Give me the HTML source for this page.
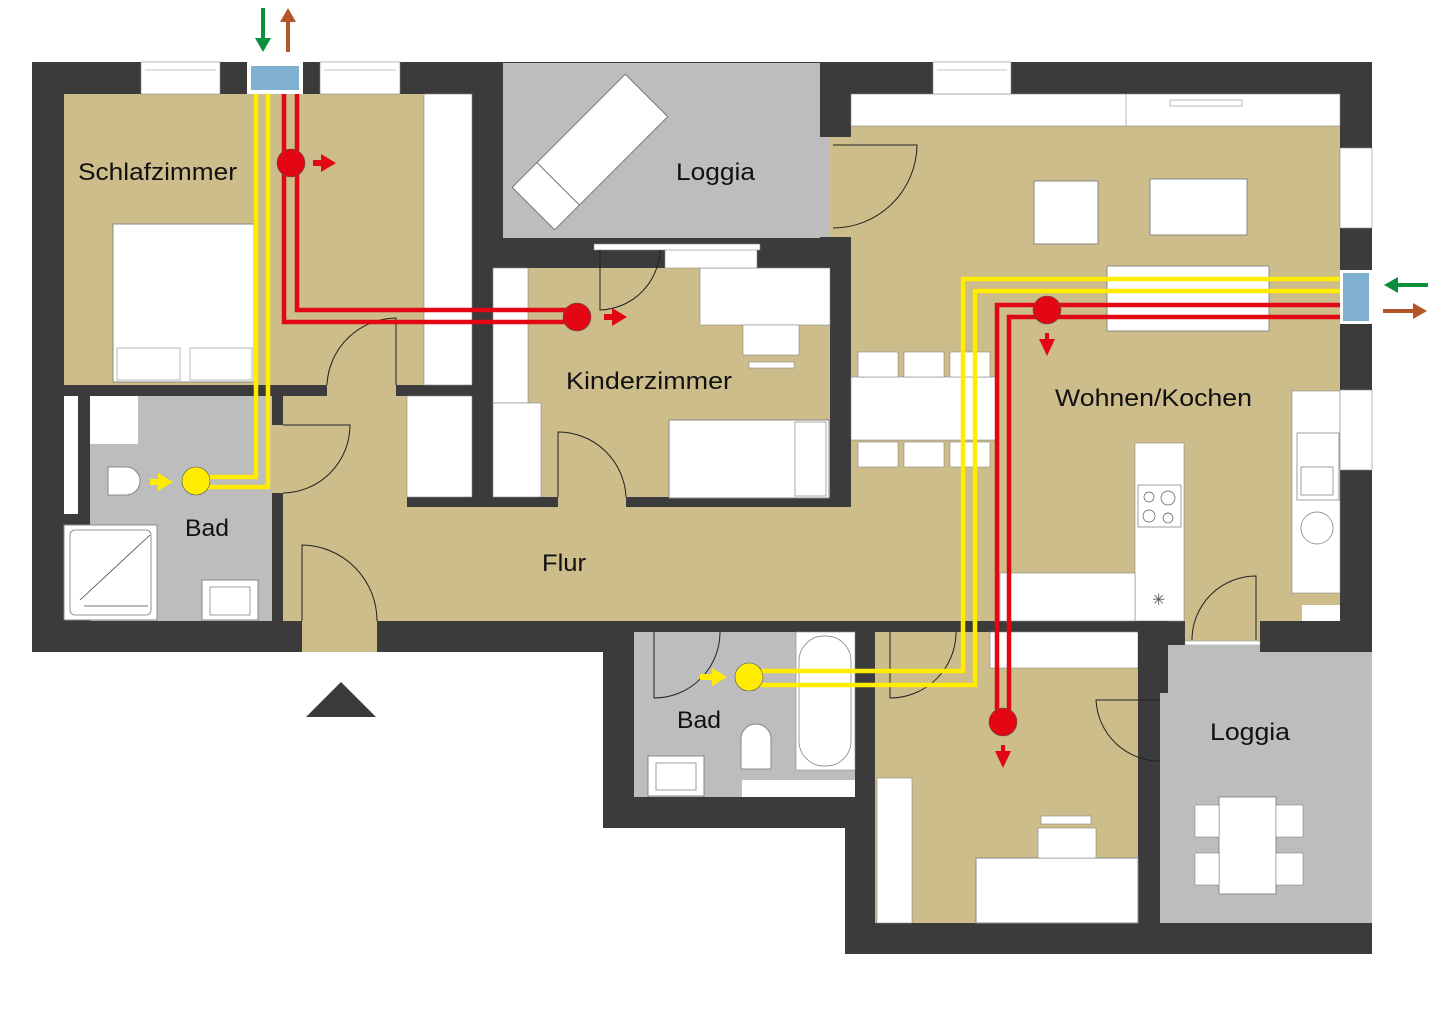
<!DOCTYPE html>
<html><head><meta charset="utf-8"><style>html,body{margin:0;padding:0;background:#fff}svg{display:block}text{font-family:"Liberation Sans",sans-serif;font-size:24px;fill:#111}</style></head><body>
<svg width="1440" height="1018" viewBox="0 0 1440 1018" xmlns="http://www.w3.org/2000/svg">
<rect width="1440" height="1018" fill="#fff"/>
<polygon points="32,62 1372,62 1372,954 845,954 845,828 603,828 603,652 32,652" fill="#3b3b3b"/>
<rect x="503" y="63" width="317" height="175" fill="#bdbdbd"/>
<rect x="820" y="137" width="10" height="100" fill="#bdbdbd"/>
<rect x="64" y="94" width="360" height="291" fill="#cdbd8a"/>
<rect x="424" y="94" width="48" height="291" fill="#fff" stroke="#888" stroke-width="0.6"/>
<rect x="327" y="385" width="69" height="12" fill="#cdbd8a"/>
<rect x="90" y="396" width="182" height="225" fill="#bdbdbd"/>
<rect x="64" y="396" width="14" height="118" fill="#fff"/>
<rect x="90" y="396" width="48" height="48" fill="#fff"/>
<rect x="64" y="525" width="93" height="95" fill="#fff" stroke="#888"/>
<rect x="70" y="530" width="81" height="85" rx="5" fill="#fff" stroke="#777" stroke-width="0.8"/>
<line x1="80" y1="600" x2="150" y2="535" stroke="#444" stroke-width="0.8"/>
<line x1="84" y1="606" x2="148" y2="606" stroke="#444" stroke-width="0.8"/>
<rect x="202" y="580" width="56" height="40" fill="#fff" stroke="#888"/>
<rect x="210" y="587" width="40" height="28" fill="#fff" stroke="#777" stroke-width="0.7"/>
<path d="M108,467 h18 a14,14 0 0 1 0,28 h-18 z" fill="#fff" stroke="#888"/>
<rect x="283" y="396" width="124" height="112" fill="#cdbd8a"/>
<rect x="283" y="507" width="720" height="114" fill="#cdbd8a"/>
<rect x="302" y="621" width="75" height="31" fill="#cdbd8a"/>
<rect x="407" y="396" width="65" height="101" fill="#fff" stroke="#888" stroke-width="0.6"/>
<rect x="272" y="425" width="11" height="68" fill="#cdbd8a"/>
<rect x="493" y="268" width="337" height="229" fill="#cdbd8a"/>
<rect x="493" y="268" width="35" height="135" fill="#fff" stroke="#888" stroke-width="0.6"/>
<rect x="493" y="403" width="48" height="94" fill="#fff" stroke="#888" stroke-width="0.6"/>
<rect x="700" y="268" width="130" height="57" fill="#fff" stroke="#888" stroke-width="0.6"/>
<rect x="743" y="325" width="56" height="30" fill="#fff" stroke="#888" stroke-width="0.6"/>
<rect x="749" y="362" width="45" height="6" fill="#fff" stroke="#888" stroke-width="0.6"/>
<rect x="669" y="420" width="160" height="78" fill="#fff" stroke="#888"/>
<rect x="795" y="422" width="31" height="74" fill="none" stroke="#888" stroke-width="0.7"/>
<rect x="665" y="248" width="92" height="20" fill="#fff" stroke="#888" stroke-width="0.6"/>
<rect x="594" y="244" width="166" height="6" fill="#fff" stroke="#888" stroke-width="0.6"/>
<rect x="558" y="497" width="68" height="10" fill="#cdbd8a"/>
<g transform="rotate(-45 590 152)"><rect x="510" y="122" width="160" height="60" fill="#fff" stroke="#777"/><line x1="545" y1="122" x2="545" y2="182" stroke="#777"/></g>
<rect x="851" y="126" width="489" height="495" fill="#cdbd8a"/>
<rect x="830" y="137" width="21" height="100" fill="#cdbd8a"/>
<rect x="851" y="94" width="489" height="32" fill="#fff" stroke="#888" stroke-width="0.6"/>
<line x1="1126" y1="94" x2="1126" y2="126" stroke="#888" stroke-width="0.6"/>
<rect x="1170" y="100" width="72" height="6" fill="#fff" stroke="#888" stroke-width="0.6"/>
<rect x="1034" y="181" width="64" height="63" fill="#fff" stroke="#888"/>
<rect x="1150" y="179" width="97" height="56" fill="#fff" stroke="#888"/>
<rect x="1107" y="266" width="162" height="65" fill="#fff" stroke="#888"/>
<rect x="851" y="377" width="145" height="63" fill="#fff" stroke="#888" stroke-width="0.6"/>
<rect x="858" y="352" width="40" height="25" fill="#fff" stroke="#888" stroke-width="0.6"/>
<rect x="904" y="352" width="40" height="25" fill="#fff" stroke="#888" stroke-width="0.6"/>
<rect x="950" y="352" width="40" height="25" fill="#fff" stroke="#888" stroke-width="0.6"/>
<rect x="858" y="442" width="40" height="25" fill="#fff" stroke="#888" stroke-width="0.6"/>
<rect x="904" y="442" width="40" height="25" fill="#fff" stroke="#888" stroke-width="0.6"/>
<rect x="950" y="442" width="40" height="25" fill="#fff" stroke="#888" stroke-width="0.6"/>
<rect x="1135" y="443" width="49" height="178" fill="#fff" stroke="#888" stroke-width="0.6"/>
<rect x="1138" y="485" width="43" height="42" fill="#fff" stroke="#777" stroke-width="0.7"/>
<circle cx="1149" cy="497" r="5" fill="none" stroke="#555" stroke-width="0.7"/><circle cx="1168" cy="498" r="7" fill="none" stroke="#555" stroke-width="0.7"/><circle cx="1149" cy="516" r="6" fill="none" stroke="#555" stroke-width="0.7"/><circle cx="1168" cy="518" r="5" fill="none" stroke="#555" stroke-width="0.7"/>
<rect x="1000" y="573" width="135" height="48" fill="#fff" stroke="#888" stroke-width="0.6"/>
<text x="1152" y="605" style="font-size:16px;fill:#555">✳</text>
<rect x="1292" y="391" width="48" height="202" fill="#fff" stroke="#888" stroke-width="0.6"/>
<rect x="1297" y="433" width="42" height="67" fill="#fff" stroke="#777" stroke-width="0.7"/>
<rect x="1301" y="467" width="32" height="28" fill="#fff" stroke="#777" stroke-width="0.7"/>
<circle cx="1317" cy="528" r="16" fill="none" stroke="#777" stroke-width="0.7"/>
<rect x="1302" y="605" width="38" height="16" fill="#fff"/>
<rect x="1340" y="148" width="32" height="80" fill="#fff" stroke="#888" stroke-width="0.6"/>
<rect x="1340" y="390" width="32" height="80" fill="#fff" stroke="#888" stroke-width="0.6"/>
<rect x="1340" y="270" width="32" height="54" fill="#fff"/>
<rect x="1343" y="273" width="26" height="48" fill="#7fb0cf"/>
<rect x="141" y="62" width="79" height="32" fill="#fff" stroke="#888" stroke-width="0.6"/>
<rect x="320" y="62" width="80" height="32" fill="#fff" stroke="#888" stroke-width="0.6"/>
<rect x="933" y="62" width="78" height="32" fill="#fff" stroke="#888" stroke-width="0.6"/>
<g stroke="#888" stroke-width="0.6"><line x1="145" y1="70" x2="216" y2="70"/><line x1="324" y1="70" x2="396" y2="70"/><line x1="937" y1="70" x2="1007" y2="70"/></g>
<rect x="247" y="62" width="56" height="32" fill="#fff"/>
<rect x="251" y="66" width="48" height="24" fill="#7fb0cf"/>
<rect x="113" y="224" width="141" height="158" fill="#fff" stroke="#888"/>
<rect x="117" y="348" width="63" height="32" fill="#fff" stroke="#888" stroke-width="0.6"/>
<rect x="190" y="348" width="62" height="32" fill="#fff" stroke="#888" stroke-width="0.6"/>
<rect x="875" y="632" width="263" height="291" fill="#cdbd8a"/>
<rect x="990" y="632" width="148" height="36" fill="#fff" stroke="#888" stroke-width="0.6"/>
<rect x="877" y="778" width="35" height="145" fill="#fff" stroke="#888" stroke-width="0.6"/>
<rect x="976" y="858" width="162" height="65" fill="#fff" stroke="#888"/>
<rect x="1038" y="828" width="58" height="30" fill="#fff" stroke="#888" stroke-width="0.6"/>
<rect x="1041" y="816" width="50" height="8" fill="#fff" stroke="#888" stroke-width="0.6"/>
<rect x="1160" y="652" width="212" height="271" fill="#bdbdbd"/>
<rect x="1138" y="621" width="30" height="72" fill="#3b3b3b"/>
<rect x="1185" y="621" width="75" height="20" fill="#cdbd8a"/>
<rect x="1185" y="641" width="75" height="4" fill="#fff" stroke="#888" stroke-width="0.5"/>
<rect x="1168" y="645" width="92" height="8" fill="#bdbdbd"/>
<rect x="1219" y="797" width="57" height="97" fill="#fff" stroke="#888"/>
<rect x="1195" y="805" width="24" height="32" fill="#fff" stroke="#888" stroke-width="0.6"/>
<rect x="1195" y="853" width="24" height="32" fill="#fff" stroke="#888" stroke-width="0.6"/>
<rect x="1276" y="805" width="27" height="32" fill="#fff" stroke="#888" stroke-width="0.6"/>
<rect x="1276" y="853" width="27" height="32" fill="#fff" stroke="#888" stroke-width="0.6"/>
<rect x="634" y="632" width="221" height="165" fill="#bdbdbd"/>
<rect x="796" y="632" width="59" height="138" fill="#fff" stroke="#888" stroke-width="0.6"/>
<rect x="799" y="636" width="52" height="130" rx="25" fill="#fff" stroke="#777" stroke-width="0.7"/>
<rect x="742" y="780" width="113" height="17" fill="#fff"/>
<rect x="648" y="756" width="56" height="40" fill="#fff" stroke="#888"/>
<rect x="656" y="763" width="40" height="27" fill="#fff" stroke="#777" stroke-width="0.7"/>
<path d="M741,769 v-30 a15,15 0 0 1 30,0 v30 z" fill="#fff" stroke="#888"/>
<g fill="none" stroke="#222" stroke-width="1">
<path d="M327,385 A70,70 0 0 1 396,318 V385"/>
<path d="M283,493 A68,68 0 0 0 350,425 H283"/>
<path d="M302,621 V545 A76,76 0 0 1 377,621"/>
<path d="M558,497 V432 A68,68 0 0 1 626,497"/>
<path d="M600,250 V310 A62,62 0 0 0 660,250"/>
<path d="M833,228 A84,84 0 0 0 917,145 H833"/>
<path d="M1192,640 A64,64 0 0 1 1256,576 V640"/>
<path d="M654,632 V698 A66,66 0 0 0 720,632"/>
<path d="M890,632 V698 A66,66 0 0 0 956,632"/>
<path d="M1160,761 A64,64 0 0 1 1096,700 H1160"/>
</g>
<g fill="none" stroke-width="4.5" stroke-linejoin="miter">
<path d="M256,94 V477 H205" stroke="#ffec00"/>
<path d="M268,94 V487 H205" stroke="#ffec00"/>
<path d="M1340,279 H963 V671 H760" stroke="#ffec00"/>
<path d="M1340,291 H975 V685 H760" stroke="#ffec00"/>
<path d="M284,94 V322 H577" stroke="#e30613"/>
<path d="M297,94 V310 H577" stroke="#e30613"/>
<path d="M1340,305 H997 V720" stroke="#e30613"/>
<path d="M1340,317 H1009 V720" stroke="#e30613"/>
</g>
<g stroke="#555" stroke-width="0.6">
<circle cx="196" cy="481" r="14" fill="#ffec00"/>
<circle cx="749" cy="677" r="14" fill="#ffec00"/>
<circle cx="291" cy="163" r="14" fill="#e30613"/>
<circle cx="577" cy="317" r="14" fill="#e30613"/>
<circle cx="1047" cy="310" r="14" fill="#e30613"/>
<circle cx="1003" cy="722" r="14" fill="#e30613"/>
</g>
<g>
<path d="M313,160 h8 v-6 l15,9 l-15,9 v-6 h-8 z" fill="#e30613"/>
<path d="M604,314 h8 v-6 l15,9 l-15,9 v-6 h-8 z" fill="#e30613"/>
<path d="M150,479 h8 v-6 l15,9 l-15,9 v-6 h-8 z" fill="#ffec00"/>
<path d="M700,674 h12 v-6 l15,9 l-15,9 v-6 h-12 z" fill="#ffec00"/>
<path d="M1045,333 v6 h-6 l8,17 l8,-17 h-6 v-6 z" fill="#e30613"/>
<path d="M1001,745 v6 h-6 l8,17 l8,-17 h-6 v-6 z" fill="#e30613"/>
<path d="M261,8 v30 h-6 l8,14 l8,-14 h-6 v-30 z" fill="#0a8f3c"/>
<path d="M286,52 v-30 h-6 l8,-14 l8,14 h-6 v30 z" fill="#b5562a"/>
<path d="M1428,283 h-30 v-6 l-14,8 l14,8 v-6 h30 z" fill="#0a8f3c"/>
<path d="M1383,309 h30 v-6 l14,8 l-14,8 v-6 h-30 z" fill="#b5562a"/>
</g>
<polygon points="306,717 376,717 341,682" fill="#3b3b3b"/>
<text x="78" y="180" textLength="159" lengthAdjust="spacingAndGlyphs">Schlafzimmer</text>
<text x="676" y="180" textLength="79" lengthAdjust="spacingAndGlyphs">Loggia</text>
<text x="566" y="389" textLength="166" lengthAdjust="spacingAndGlyphs">Kinderzimmer</text>
<text x="1055" y="406" textLength="197" lengthAdjust="spacingAndGlyphs">Wohnen/Kochen</text>
<text x="185" y="536" textLength="44" lengthAdjust="spacingAndGlyphs">Bad</text>
<text x="542" y="571" textLength="44" lengthAdjust="spacingAndGlyphs">Flur</text>
<text x="677" y="728" textLength="44" lengthAdjust="spacingAndGlyphs">Bad</text>
<text x="1210" y="740" textLength="80" lengthAdjust="spacingAndGlyphs">Loggia</text>
</svg>
</body></html>
